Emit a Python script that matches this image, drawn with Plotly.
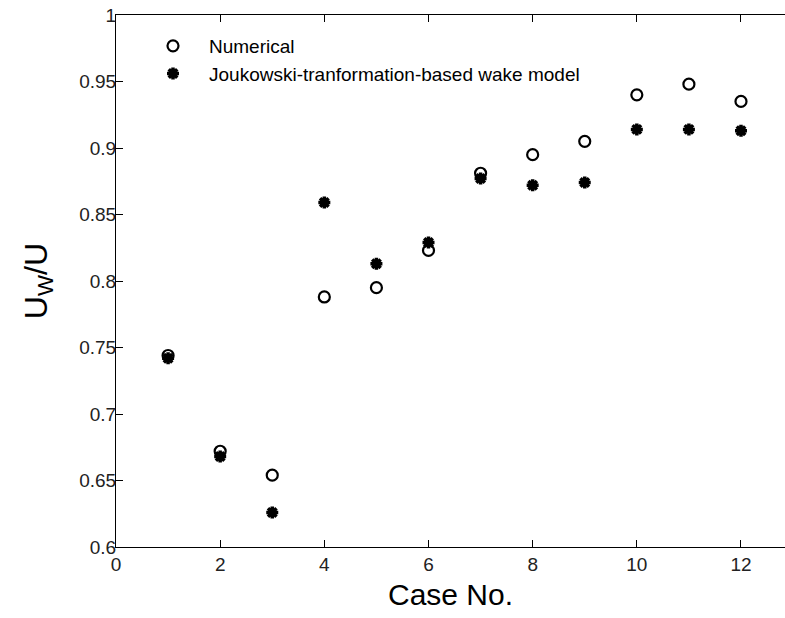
import plotly.graph_objects as go

cases = [1, 2, 3, 4, 5, 6, 7, 8, 9, 10, 11, 12]
numerical = [0.744, 0.672, 0.654, 0.788, 0.795, 0.823, 0.881, 0.895, 0.905, 0.940, 0.948, 0.935]
joukowski = [0.742, 0.668, 0.626, 0.859, 0.813, 0.829, 0.877, 0.872, 0.874, 0.914, 0.914, 0.913]

x_ticks = [0, 2, 4, 6, 8, 10, 12]
y_ticks = [0.6, 0.65, 0.7, 0.75, 0.8, 0.85, 0.9, 0.95, 1.0]
y_labels = ["0.6", "0.65", "0.7", "0.75", "0.8", "0.85", "0.9", "0.95", "1"]

FONT = "Liberation Sans, Arial, sans-serif"

fig = go.Figure()
fig.add_trace(go.Scatter(
    x=cases, y=numerical, mode="markers", name="Numerical",
    marker=dict(symbol="circle-open", size=11, color="black", line=dict(width=2.2, color="black")),
))
fig.add_trace(go.Scatter(
    x=cases, y=joukowski, mode="markers", name="Joukowski-tranformation-based wake model",
    marker=dict(symbol="asterisk-open", size=10, color="black", line=dict(width=3.5, color="black")),
))

fig.update_layout(
    width=785, height=618,
    margin=dict(l=116, r=0, t=15, b=71),
    paper_bgcolor="white", plot_bgcolor="white",
    font=dict(family=FONT, color="black", size=19),
    showlegend=True,
    legend=dict(
        x=(137 - 116) / 669, y=1 - (27 - 15) / 532,
        xanchor="left", yanchor="top",
        bgcolor="rgba(0,0,0,0)", borderwidth=0,
        itemwidth=62,
        font=dict(family=FONT, size=19, color="black"),
    ),
    xaxis=dict(
        range=[0, 12.845], tickvals=x_ticks, ticktext=[str(v) for v in x_ticks],
        ticks="inside", ticklen=7, tickcolor="black", tickwidth=1,
        showline=True, linecolor="black", linewidth=1, mirror="ticks",
        showgrid=False, zeroline=False,
        tickfont=dict(family=FONT, size=19, color="#222"),
        title=dict(text="Case No.", font=dict(family=FONT, size=30, color="black"), standoff=10),
    ),
    yaxis=dict(
        range=[0.6, 1.0], tickvals=y_ticks, ticktext=y_labels,
        ticks="inside", ticklen=7, tickcolor="black", tickwidth=1,
        ticklabelstandoff=-5,
        showline=True, linecolor="black", linewidth=1, mirror=False,
        showgrid=False, zeroline=False,
        tickfont=dict(family=FONT, size=19, color="#222"),
        title=dict(text="U<sub>W</sub>/U", font=dict(family=FONT, size=32, color="black"), standoff=22),
    ),
)

fig.write_html("out.html")
